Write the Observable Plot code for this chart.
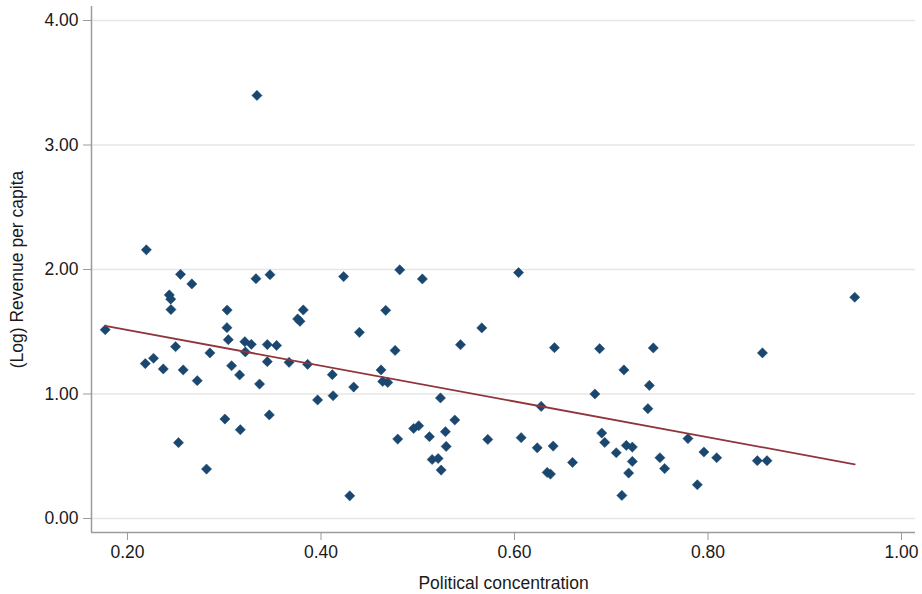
<!DOCTYPE html>
<html>
<head>
<meta charset="utf-8">
<script src="https://cdn.jsdelivr.net/npm/d3@7"></script>
<script src="https://cdn.jsdelivr.net/npm/@observablehq/plot@0.6"></script>
<style>
  html, body { margin: 0; padding: 0; background: #fff; }
  #chart svg { display: block; }
</style>
</head>
<body>
<div id="chart"></div>
<script>
// Political concentration (x) and (Log) Revenue per capita (y)
const concentration = [
  0.177, 0.2195, 0.2184, 0.2269, 0.237, 0.2497, 0.2432, 0.2447, 0.2449, 0.2548,
  0.2665, 0.2576, 0.2721, 0.2527, 0.2817, 0.2852, 0.303, 0.3028, 0.3042, 0.3076,
  0.3159, 0.3007, 0.3166, 0.3213, 0.328, 0.3218, 0.3445, 0.3541, 0.3445, 0.3365,
  0.3466, 0.3338, 0.3328, 0.3473, 0.367, 0.3862, 0.3759, 0.3783, 0.3817, 0.3965,
  0.4117, 0.4125, 0.4338, 0.4234, 0.4397, 0.4297, 0.4621, 0.4638, 0.469, 0.4669,
  0.4766, 0.4814, 0.5048, 0.5235, 0.4793, 0.4958, 0.501, 0.5121, 0.5286, 0.5294,
  0.5149, 0.5211, 0.5242, 0.5383, 0.5442, 0.5662, 0.5724, 0.6042, 0.6069, 0.6276,
  0.6235, 0.64, 0.6413, 0.6338, 0.6372, 0.66, 0.6831, 0.688, 0.6902, 0.6933,
  0.7052, 0.7435, 0.7131, 0.7394, 0.7379, 0.7156, 0.7218, 0.7218, 0.718, 0.711,
  0.7503, 0.7552, 0.7793, 0.7958, 0.809, 0.789, 0.851, 0.861, 0.8563, 0.9517
];
const revenue = [
  1.516, 2.158, 1.244, 1.287, 1.201, 1.380, 1.796, 1.762, 1.678, 1.961,
  1.884, 1.193, 1.107, 0.609, 0.397, 1.330, 1.674, 1.533, 1.436, 1.227,
  1.153, 0.799, 0.713, 1.420, 1.399, 1.338, 1.397, 1.390, 1.260, 1.080,
  0.832, 3.398, 1.926, 1.958, 1.254, 1.238, 1.603, 1.584, 1.675, 0.952,
  1.155, 0.986, 1.056, 1.943, 1.495, 0.182, 1.193, 1.101, 1.093, 1.672,
  1.350, 1.997, 1.924, 0.968, 0.638, 0.723, 0.745, 0.657, 0.697, 0.579,
  0.474, 0.482, 0.389, 0.791, 1.396, 1.531, 0.635, 1.975, 0.649, 0.900,
  0.568, 0.582, 1.372, 0.370, 0.357, 0.450, 1.000, 1.364, 0.686, 0.611,
  0.528, 1.370, 1.193, 1.069, 0.882, 0.587, 0.574, 0.458, 0.365, 0.185,
  0.488, 0.401, 0.642, 0.534, 0.488, 0.271, 0.464, 0.464, 1.330, 1.777
];
const xTicks = [0.2, 0.4, 0.6, 0.8, 1.0];
const yTicks = [0, 1, 2, 3, 4];
const xDomain = [0.1628, 1.0145];
const yDomain = [-0.1125, 4.1125];

const data = concentration.map((x, i) => ({x, y: revenue[i]}));
const fmt = d3.format(".2f");
const axisGray = "#9b9b9b";
const textColor = "#1a1a1a";

const chart = Plot.plot({
  width: 922,
  height: 594,
  marginLeft: 91,
  marginRight: 7,
  marginTop: 6,
  marginBottom: 62,
  style: {fontFamily: "'Liberation Sans', Arial, Helvetica, sans-serif", fontSize: "17px", color: textColor, background: "#fff"},
  x: {domain: xDomain},
  y: {domain: yDomain},
  marks: [
    Plot.gridY(yTicks, {stroke: "#e6e6e6", strokeOpacity: 1, strokeWidth: 1.3}),
    Plot.ruleX([xDomain[0]], {stroke: axisGray, strokeWidth: 1.5}),
    Plot.ruleY([yDomain[0]], {stroke: axisGray, strokeWidth: 1.5}),
    Plot.axisY(yTicks, {
      tickFormat: fmt, tickSize: 8, tickPadding: 5, stroke: axisGray, fill: textColor, fontSize: 17.5,
      label: "(Log) Revenue per capita", labelAnchor: "center", labelArrow: "none", labelOffset: 81
    }),
    Plot.axisX(xTicks, {
      tickFormat: fmt, tickSize: 8, tickPadding: 5, stroke: axisGray, fill: textColor, fontSize: 17.5,
      label: "Political concentration", labelAnchor: "center", labelArrow: "none", labelOffset: 56
    }),
    Plot.dot(data, {x: "x", y: "y", symbol: "diamond2", r: 4.6, fill: "#1a476f", stroke: "#1a476f", strokeWidth: 0.5}),
    Plot.linearRegressionY(data, {x: "x", y: "y", stroke: "#90353b", strokeWidth: 1.8, ci: 0})
  ]
});
document.getElementById("chart").appendChild(chart);
</script>
</body>
</html>
